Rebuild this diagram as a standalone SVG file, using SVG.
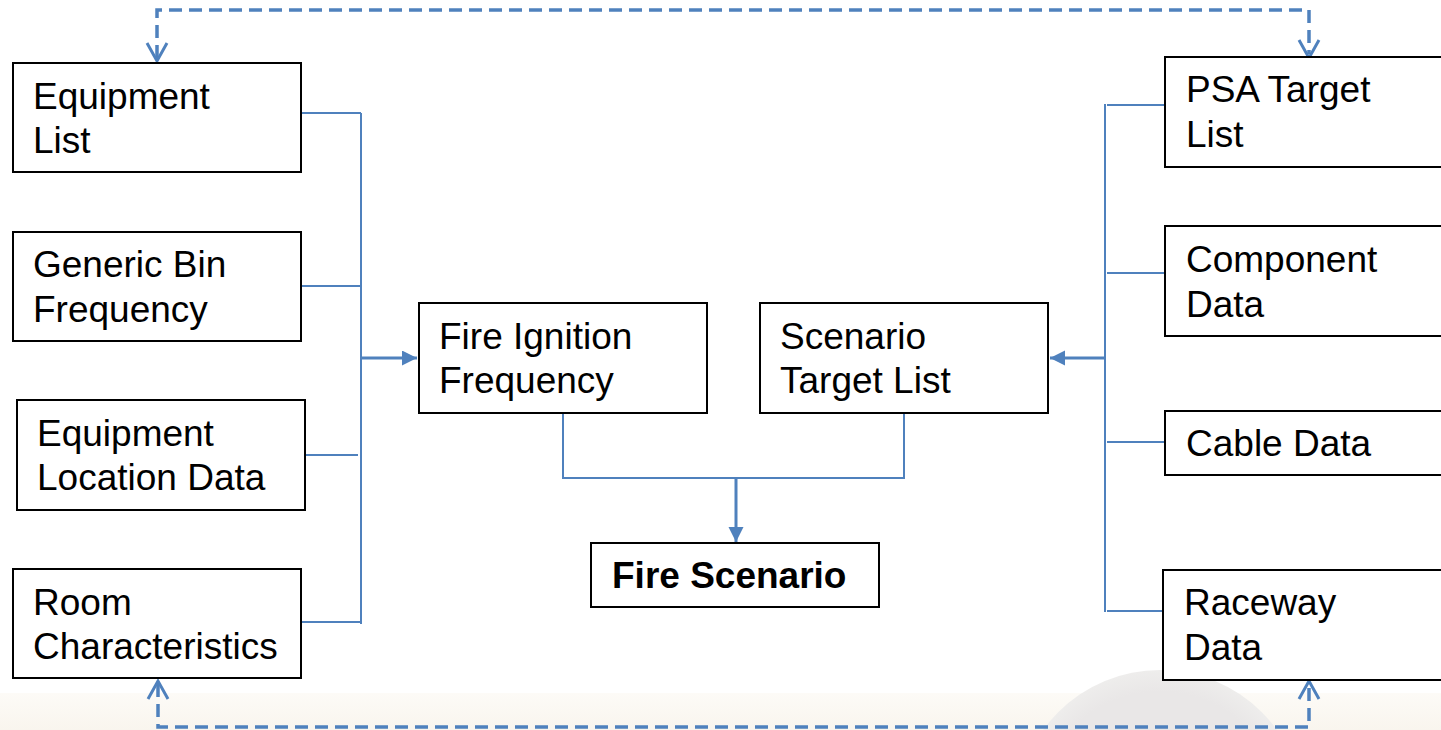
<svg xmlns="http://www.w3.org/2000/svg" width="1441" height="730" viewBox="0 0 1441 730">
  <style>
    .box { fill: #ffffff; stroke: #000000; stroke-width: 2; }
    .lbl { font-family: "Liberation Sans", Arial, sans-serif; font-size: 37px; fill: #000000; }
    .bold { font-weight: bold; }
    .wire { fill: none; stroke: #4f81bd; stroke-width: 2; }
    .feed { fill: none; stroke: #4f81bd; stroke-width: 3; }
    .loop { fill: none; stroke: #4f81bd; stroke-width: 3.5; stroke-dasharray: 13 7; }
    .vee { fill: none; stroke: #4f81bd; stroke-width: 3; stroke-linejoin: miter; }
  </style>
  <defs>
    <marker id="tri" markerWidth="6" markerHeight="6" refX="5" refY="2.5" orient="auto" markerUnits="strokeWidth">
      <path d="M0,0 L5,2.5 L0,5 Z" fill="#4f81bd"/>
    </marker>
    <linearGradient id="band" x1="0" y1="0" x2="0" y2="1">
      <stop offset="0" stop-color="#fdfbf7"/>
      <stop offset="1" stop-color="#f9f5ee"/>
    </linearGradient>
    <radialGradient id="disc" cx="0.5" cy="0.5" r="0.5">
      <stop offset="0.85" stop-color="#e9e7e7"/>
      <stop offset="1" stop-color="#eeedec"/>
    </radialGradient>
  </defs>

  <!-- page background -->
  <rect x="0" y="0" width="1441" height="730" fill="#ffffff"/>
  <rect x="0" y="693" width="1441" height="37" fill="url(#band)"/>
  <circle cx="1160" cy="814" r="144" fill="url(#disc)"/>

  <!-- connectors -->
  <g id="connectors">
    <!-- left input bus -->
    <path class="wire" d="M302,113 H361 M302,286 H361 M306,455 H358 M302,622 H361 M361,113 V624"/>
    <path class="feed" d="M361,358 H417" marker-end="url(#tri)"/>
    <!-- right input bus -->
    <path class="wire" d="M1107,105 H1165 M1107,273 H1165 M1107,442 H1165 M1107,611 H1165 M1105,104 V612"/>
    <path class="feed" d="M1105,358 H1050" marker-end="url(#tri)"/>
    <!-- merge into Fire Scenario -->
    <path class="wire" d="M563,413 V478 H904 V413"/>
    <path class="feed" d="M736,478 V542" marker-end="url(#tri)"/>
    <!-- dashed feedback loops -->
    <path class="loop" d="M157,58 V10 H1309 V54"/>
    <path class="vee" d="M147,43 L157,61 L167,43"/>
    <path class="vee" d="M1299,40 L1309,58 L1319,40"/>
    <path class="loop" d="M158,684 V727 H1309 V684"/>
    <path class="vee" d="M148,699 L158,681 L168,699"/>
    <path class="vee" d="M1299,699 L1309,681 L1319,699"/>
  </g>

  <!-- left column -->
  <g id="equipment-list">
    <rect class="box" x="13" y="63" width="288" height="109"/>
    <text class="lbl" x="33" y="109">Equipment</text>
    <text class="lbl" x="33" y="153">List</text>
  </g>
  <g id="generic-bin-frequency">
    <rect class="box" x="13" y="232" width="288" height="109"/>
    <text class="lbl" x="33" y="277">Generic Bin</text>
    <text class="lbl" x="33" y="322">Frequency</text>
  </g>
  <g id="equipment-location-data">
    <rect class="box" x="17" y="400" width="288" height="110"/>
    <text class="lbl" x="37" y="446">Equipment</text>
    <text class="lbl" x="37" y="490">Location Data</text>
  </g>
  <g id="room-characteristics">
    <rect class="box" x="13" y="569" width="288" height="109"/>
    <text class="lbl" x="33" y="615">Room</text>
    <text class="lbl" x="33" y="659">Characteristics</text>
  </g>

  <!-- centre -->
  <g id="fire-ignition-frequency">
    <rect class="box" x="419" y="303" width="288" height="110"/>
    <text class="lbl" x="439" y="349">Fire Ignition</text>
    <text class="lbl" x="439" y="393">Frequency</text>
  </g>
  <g id="scenario-target-list">
    <rect class="box" x="760" y="303" width="288" height="110"/>
    <text class="lbl" x="780" y="349">Scenario</text>
    <text class="lbl" x="780" y="393">Target List</text>
  </g>
  <g id="fire-scenario">
    <rect class="box" x="591" y="543" width="288" height="64"/>
    <text class="lbl bold" x="612" y="588">Fire Scenario</text>
  </g>

  <!-- right column -->
  <g id="psa-target-list">
    <rect class="box" x="1165" y="57" width="288" height="110"/>
    <text class="lbl" x="1186" y="102">PSA Target</text>
    <text class="lbl" x="1186" y="147">List</text>
  </g>
  <g id="component-data">
    <rect class="box" x="1165" y="226" width="288" height="110"/>
    <text class="lbl" x="1186" y="272">Component</text>
    <text class="lbl" x="1186" y="317">Data</text>
  </g>
  <g id="cable-data">
    <rect class="box" x="1165" y="411" width="288" height="64"/>
    <text class="lbl" x="1186" y="456">Cable Data</text>
  </g>
  <g id="raceway-data">
    <rect class="box" x="1163" y="570" width="288" height="110"/>
    <text class="lbl" x="1184" y="615">Raceway</text>
    <text class="lbl" x="1184" y="660">Data</text>
  </g>
</svg>
